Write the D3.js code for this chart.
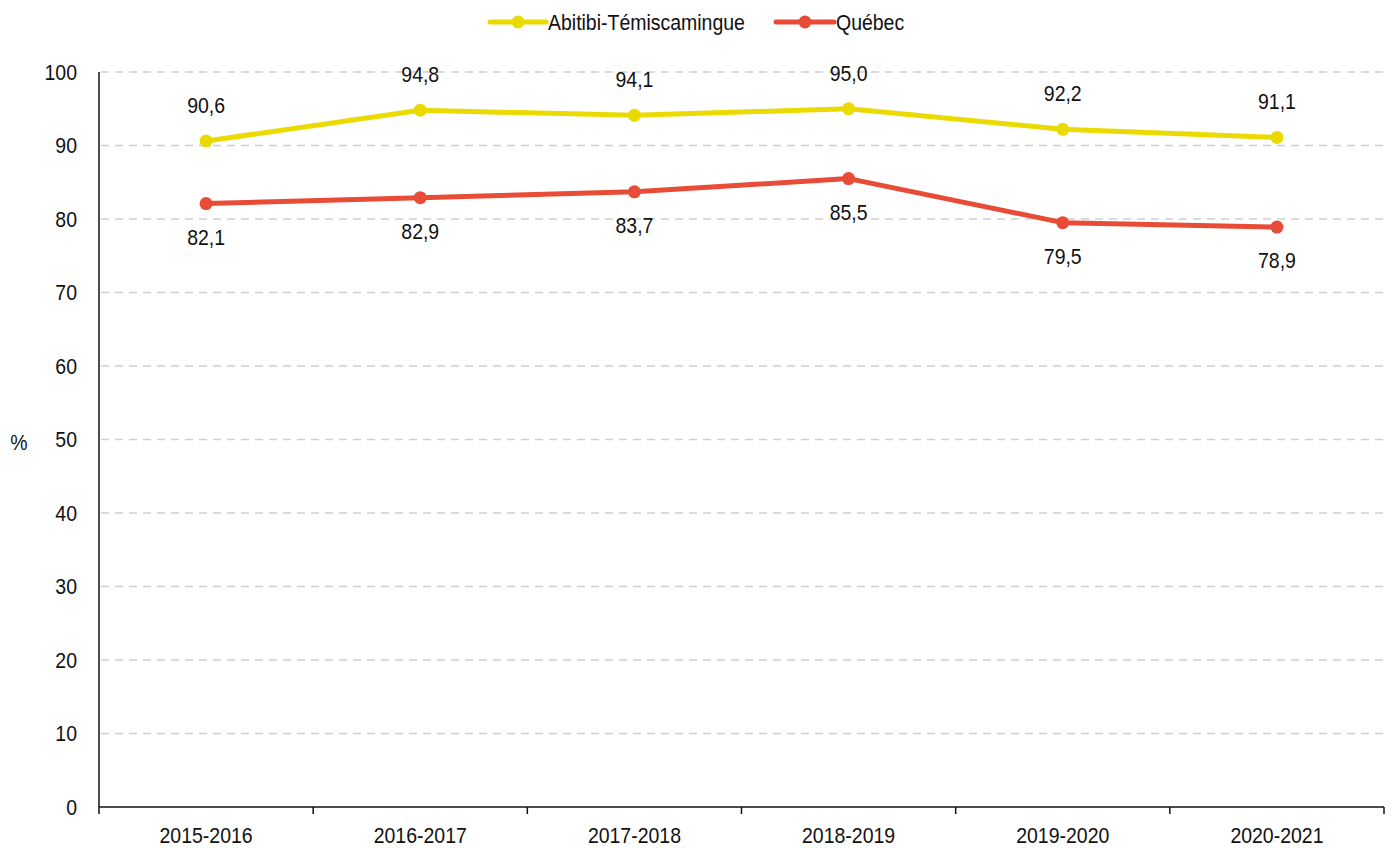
<!DOCTYPE html>
<html lang="fr">
<head>
  <meta charset="UTF-8">
  <title>Abitibi-Témiscamingue vs Québec</title>
  <style>
    body { margin: 0; background: #fff; }
    svg { display: block; font-family: "Liberation Sans Narrow", "Arial Narrow", "Liberation Sans", Arial, sans-serif; }
    .grid line { stroke: #d0d0d0; stroke-dasharray: 8 6; stroke-width: 1.5; }
    .axis text { font-size: 22px; fill: #111; }
    .axis path, .axis line { stroke: #111; stroke-width: 1.5; }
    .lbl { font-size: 22px; fill: #111; text-anchor: middle; }
  </style>
</head>
<body>
<svg></svg>
<script src="https://d3js.org/d3.v7.min.js"></script>
<script>
  let years = ['2015-2016', '2016-2017', '2017-2018', '2018-2019', '2019-2020', '2020-2021'];
  let abitibi = [90.6, 94.8, 94.1, 95.0, 92.2, 91.1];
  let quebec = [82.1, 82.9, 83.7, 85.5, 79.5, 78.9];
  let yTicks = [0, 10, 20, 30, 40, 50, 60, 70, 80, 90, 100];

  let series = [
    { name: 'Abitibi-Témiscamingue', values: abitibi, color: '#EBDA00', above: true },
    { name: 'Québec', values: quebec, color: '#E84C37', above: false }
  ];

  let width = 1395, height = 848;
  let margin = { top: 72, right: 11, bottom: 41, left: 99 };
  let sx = 0.885; // narrow the sans font, no condensed face installed

  let svg = d3.select('svg').attr('width', width).attr('height', height);

  let x = d3.scaleBand().domain(years).range([margin.left, width - margin.right]);
  let y = d3.scaleLinear().domain([0, 100]).range([height - margin.bottom, margin.top]);

  // gridlines
  svg.append('g')
    .attr('class', 'grid')
    .selectAll('line')
    .data(yTicks.filter(d => d > 0))
    .enter()
    .append('line')
    .attr('x1', margin.left + 2)
    .attr('x2', width - margin.right)
    .attr('y1', d => y(d))
    .attr('y2', d => y(d));

  // y axis
  let yAxis = svg.append('g')
    .attr('class', 'axis')
    .attr('transform', `translate(${margin.left},0)`)
    .call(d3.axisLeft(y).tickValues(yTicks).tickSize(0).tickPadding(22));
  yAxis.select('.domain').attr('d', `M0,${y(100)}V${y(0)}`);
  yAxis.selectAll('text')
    .attr('x', -22 / sx)
    .attr('transform', `scale(${sx},1)`);

  // x axis
  let xAxis = svg.append('g')
    .attr('class', 'axis')
    .attr('transform', `translate(0,${y(0)})`)
    .call(d3.axisBottom(x).tickSize(0).tickPadding(20));
  xAxis.select('.domain').attr('d', `M${margin.left},0H${width - margin.right}`);
  xAxis.selectAll('text').attr('transform', `scale(${sx},1)`);
  xAxis.selectAll('.tick-sep')
    .data(years.map(d => x(d)).concat([width - margin.right]))
    .enter()
    .append('line')
    .attr('x1', d => d).attr('x2', d => d)
    .attr('y1', 0).attr('y2', 7)
    .attr('stroke', '#111').attr('stroke-width', 1.5);

  svg.append('text')
    .attr('transform', `translate(19,450) scale(${sx},1)`)
    .attr('text-anchor', 'middle')
    .attr('font-size', 22)
    .attr('fill', '#111')
    .text('%');

  let cx = d => x(d) + x.bandwidth() / 2;

  let line = d3.line()
    .x((d, i) => cx(years[i]))
    .y(d => y(d));

  for (let s of series) {
    let g = svg.append('g');
    g.append('path')
      .datum(s.values)
      .attr('d', line)
      .attr('fill', 'none')
      .attr('stroke', s.color)
      .attr('stroke-width', 5)
      .attr('stroke-linejoin', 'round');

    g.selectAll('circle')
      .data(s.values)
      .enter()
      .append('circle')
      .attr('cx', (d, i) => cx(years[i]))
      .attr('cy', d => y(d))
      .attr('r', 6.5)
      .attr('fill', s.color);

    g.selectAll('text')
      .data(s.values)
      .enter()
      .append('text')
      .attr('class', 'lbl')
      .attr('transform', (d, i) => {
        let ty = s.above ? y(d) - 28 : y(d) + 41;
        return `translate(${cx(years[i])},${ty}) scale(${sx},1)`;
      })
      .text(d => d.toFixed(1).replace('.', ','));
  }

  // legend
  let legend = svg.append('g').attr('transform', 'translate(0,22)');
  let legendPos = [{ x: 490, w: 56 }, { x: 776, w: 58 }];
  series.forEach((s, i) => {
    let p = legendPos[i];
    legend.append('line')
      .attr('x1', p.x).attr('x2', p.x + p.w)
      .attr('y1', 0).attr('y2', 0)
      .attr('stroke', s.color).attr('stroke-width', 5).attr('stroke-linecap', 'round');
    legend.append('circle')
      .attr('cx', p.x + p.w / 2).attr('cy', 0).attr('r', 6.5)
      .attr('fill', s.color);
    legend.append('text')
      .attr('transform', `translate(${p.x + p.w + 2},8) scale(${sx},1)`)
      .attr('font-size', 22)
      .attr('fill', '#111')
      .text(s.name);
  });
</script>
</body>
</html>
